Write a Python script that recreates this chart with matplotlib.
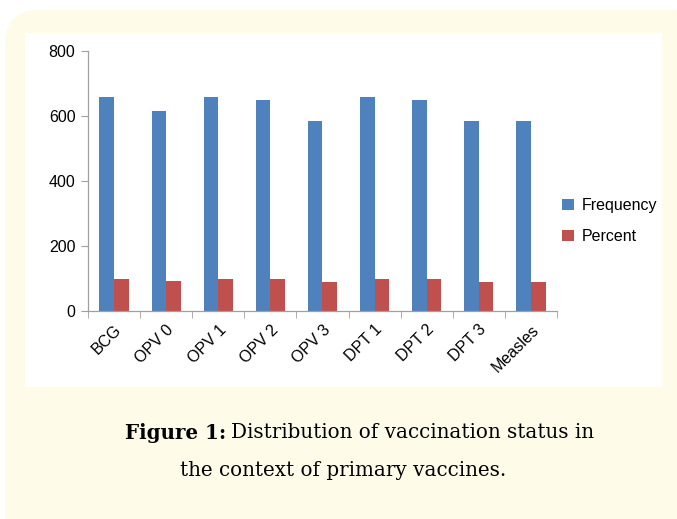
import matplotlib.pyplot as plt
import numpy as np
from matplotlib.patches import FancyBboxPatch, Rectangle

# Datos de vacunación
vaccines = ['BCG', 'OPV 0', 'OPV 1', 'OPV 2', 'OPV 3', 'DPT 1', 'DPT 2', 'DPT 3', 'Measles']
frequency = [660, 615, 660, 650, 585, 660, 650, 585, 585]
percent = [100, 93, 100, 98, 89, 100, 98, 89, 89]

W, H = 677, 519
fig = plt.figure(figsize=(W / 100, H / 100), dpi=100)
fig.patch.set_facecolor('white')

# Marco crema con esquinas redondeadas y panel blanco
fig.patches.append(FancyBboxPatch((5 / W, -30 / H), 700 / W, (H - 10 + 30) / H,
                                  boxstyle='round,pad=0,rounding_size=0.05',
                                  transform=fig.transFigure, facecolor='#FFFBE9',
                                  edgecolor='none', zorder=0, mutation_aspect=W / H))
fig.patches.append(Rectangle((25 / W, (H - 387) / H), (662 - 25) / W, (387 - 33) / H,
                             transform=fig.transFigure, facecolor='white',
                             edgecolor='none', zorder=1))

ax = fig.add_axes([88 / W, (H - 311) / H, (557 - 88) / W, (311 - 51) / H])
ax.set_zorder(2)
ax.patch.set_alpha(0)

x = np.arange(len(vaccines))
w = 0.28
ax.bar(x - w / 2, frequency, w, color='#4F81BD', label='Frequency')
ax.bar(x + w / 2, percent, w, color='#C0504D', label='Percent')

ax.set_xlim(-0.5, len(vaccines) - 0.5)
ax.set_ylim(0, 800)
ax.set_yticks([0, 200, 400, 600, 800])
ax.set_xticks(x)
ax.set_xticks(np.arange(-0.5, len(vaccines)), minor=True)
ax.set_xticklabels(vaccines, rotation=45, ha='right', rotation_mode='anchor',
                   fontsize=11.5, family='Liberation Sans')
for lbl in ax.get_yticklabels():
    lbl.set_fontsize(11.5)
    lbl.set_family('Liberation Sans')

ax.tick_params(axis='x', which='major', length=0, pad=8)
ax.tick_params(axis='x', which='minor', length=5, color='#A0A0A0', direction='out')
ax.tick_params(axis='y', length=5, color='#A0A0A0', direction='out', pad=4)
for s in ['top', 'right']:
    ax.spines[s].set_visible(False)
for s in ['left', 'bottom']:
    ax.spines[s].set_color('#A0A0A0')
    ax.spines[s].set_linewidth(0.9)

fig.legend(loc='center left', bbox_to_anchor=(548 / W, (H - 221) / H), frameon=False,
           prop={'family': 'Liberation Sans', 'size': 11.5}, handlelength=0.7,
           handleheight=0.7, handletextpad=0.5, labelspacing=1.0)

# Pie de figura: parte en negrita y resto a continuación
cap_font = dict(fontsize=14.3, family='DejaVu Serif', va='center', ha='left')
y1 = (H - 433) / H
t1 = fig.text(125 / W, y1, 'Figure 1:', fontweight='bold', **cap_font)
r = fig.canvas.get_renderer()
bb = t1.get_window_extent(renderer=r)
fig.text((bb.x1 + 5) / W, y1, 'Distribution of vaccination status in', **cap_font)
fig.text(343 / W, (H - 470) / H, 'the context of primary vaccines.',
         **{**cap_font, 'ha': 'center'})

fig.savefig('out.png', dpi=100)
